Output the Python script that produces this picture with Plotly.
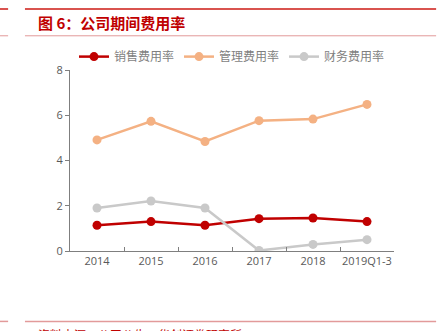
import plotly.graph_objects as go

categories = ["2014", "2015", "2016", "2017", "2018", "2019Q1-3"]
sales = [1.14, 1.30, 1.14, 1.43, 1.46, 1.30]
admin = [4.91, 5.73, 4.84, 5.76, 5.83, 6.48]
finance = [1.90, 2.21, 1.90, 0.02, 0.29, 0.50]
y_ticks = [0, 2, 4, 6, 8]

fig = go.Figure()
for name, vals, color in [("销售费用率", sales, "#c00000"),
                          ("管理费用率", admin, "#f4b183"),
                          ("财务费用率", finance, "#c9c9c9")]:
    fig.add_trace(go.Scatter(x=categories, y=vals, name=name, mode="lines+markers",
                             line=dict(color=color, width=2.5),
                             marker=dict(color=color, size=9)))

red = "#c00000"
line_col = "#e29a9a"
shapes = []
for (x0, x1) in [(-0.216, -0.191), (-0.139, 1.13)]:
    shapes.append(dict(type="line", xref="paper", yref="paper", x0=x0, x1=x1, y0=1.337, y1=1.337,
                       line=dict(color="#d9534f", width=2)))
    shapes.append(dict(type="line", xref="paper", yref="paper", x0=x0, x1=x1, y0=1.189, y1=1.189,
                       line=dict(color=line_col, width=1)))
    shapes.append(dict(type="line", xref="paper", yref="paper", x0=x0, x1=x1, y0=-0.389, y1=-0.389,
                       line=dict(color=line_col, width=1.5)))

fig.update_layout(
    width=439, height=331,
    margin=dict(l=70, r=45, t=69.5, b=79.5),
    paper_bgcolor="white", plot_bgcolor="white",
    font=dict(family="Noto Sans CJK SC, sans-serif", color="#595959", size=11),
    showlegend=True,
    legend=dict(orientation="h", x=0.5, xanchor="center", y=1.074, yanchor="middle",
                font=dict(size=12, color="#7f7f7f"), itemwidth=30, tracegroupgap=0,
                bgcolor="rgba(0,0,0,0)"),
    xaxis=dict(type="category", showline=True, linecolor="#7f7f7f", linewidth=1,
               ticks="inside", ticklen=4, tickcolor="#7f7f7f", tickson="boundaries",
               showgrid=False, zeroline=False, range=[-0.5, 5.5], tickangle=0,
               tickfont=dict(family="Open Sans, sans-serif", size=11, color="#595959")),
    yaxis=dict(range=[0, 8], tickvals=y_ticks, showline=True, linecolor="#7f7f7f", linewidth=1,
               ticks="outside", ticklen=4, tickcolor="#7f7f7f", showgrid=False, zeroline=False,
               tickfont=dict(family="Open Sans, sans-serif", size=11, color="#595959")),
    shapes=shapes,
    annotations=[
        dict(text="<b>图 6：公司期间费用率</b>", xref="paper", yref="paper", x=-0.105, y=1.26,
             xanchor="left", yanchor="middle", showarrow=False,
             font=dict(size=15, color=red, family="Noto Sans CJK SC")),
        dict(text="资料来源：公司公告，华创证券研究所", xref="paper", yref="paper", x=-0.105, y=-0.405,
             xanchor="left", yanchor="top", showarrow=False,
             font=dict(size=12, color=red, family="Noto Sans CJK SC")),
    ],
)
fig.write_html("out.html")
